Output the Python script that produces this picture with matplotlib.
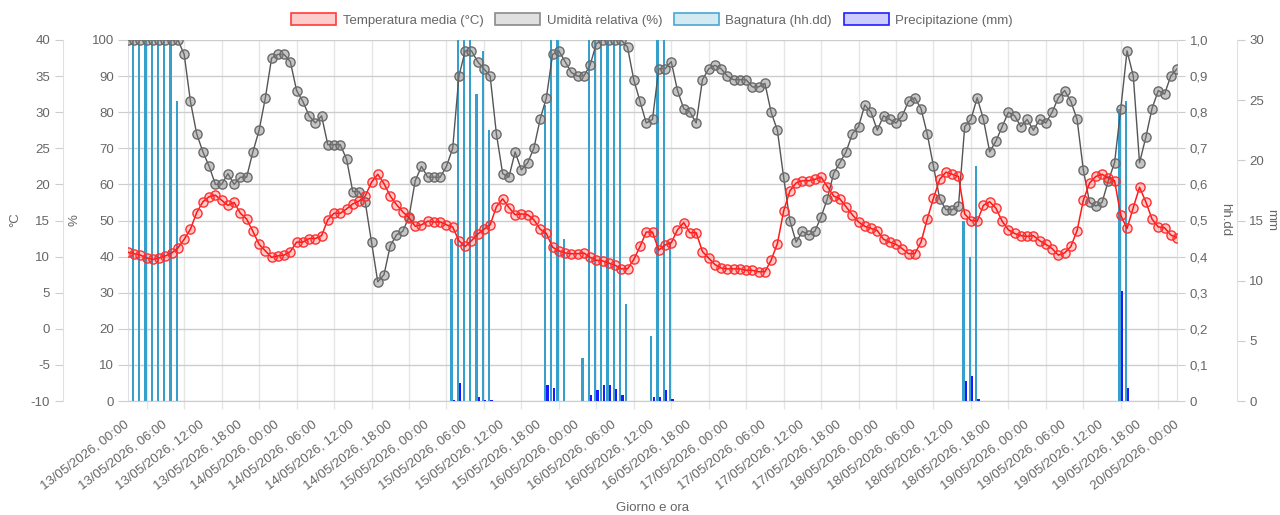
import numpy as np
import pandas as pd
import matplotlib
matplotlib.use('Agg')
import matplotlib.pyplot as plt
from matplotlib.patches import Patch

plt.rcParams['font.family'] = ['Liberation Sans', 'DejaVu Sans']

# hourly data 13/05/2026 00:00 -> 20/05/2026 00:00
temperatura = [
    10.6, 10.4, 10.2, 9.8, 9.6, 9.8, 10.1, 10.5, 11.2,
    12.4, 13.8, 16.1, 17.6, 18.3, 18.5, 17.8, 17.1, 17.5, 16.0, 15.2, 13.5,
    11.7, 10.8, 9.9, 10.1, 10.2, 10.7, 12.0, 12.0, 12.5, 12.5, 12.9,
    15.1, 16.0, 16.0, 16.6, 17.3, 17.7, 18.4, 20.3, 21.4, 20.1, 18.4, 17.2, 16.2, 15.4, 14.2,
    14.4, 14.9, 14.8, 14.8, 14.4, 14.1, 12.2, 11.4, 12.2, 13.1, 13.8, 14.4,
    16.9, 18.0, 16.8, 15.8, 15.9, 15.8, 15.1, 13.8, 13.2, 11.3, 10.8, 10.5,
    10.4, 10.4, 10.5, 9.9, 9.5, 9.4, 9.1, 8.8, 8.3, 8.3, 9.6, 11.4,
    13.4, 13.4, 10.9, 11.6, 11.9, 13.7, 14.7, 13.3, 13.3, 10.7, 9.8, 8.9,
    8.4, 8.3, 8.3, 8.3, 8.1, 8.1, 7.9, 7.9, 9.5, 11.8, 16.3, 19.1,
    20.2, 20.5, 20.5, 20.7, 21.0, 19.7, 18.4, 18.0,
    16.9, 15.8, 14.8, 14.2, 13.9, 13.6, 12.4, 12.0, 11.7, 11.1, 10.4, 10.4,
    12.0, 15.2, 18.1, 20.7, 21.7, 21.4, 21.1, 15.9, 15.0, 14.9, 17.1, 17.6,
    16.7, 14.9, 13.7, 13.2, 12.9, 12.8, 12.9, 12.2, 11.7, 11.1, 10.2, 10.5,
    11.4, 13.6, 17.8, 20.2, 21.1, 21.4, 20.9, 20.5, 15.7, 13.9, 16.8, 19.6,
    17.6, 15.2, 14.1, 14.0, 13.0, 12.6,
]
umidita = [
    100, 100, 100, 100, 100, 100, 100, 100, 100,
    96, 83, 74, 69, 65, 60, 60, 63, 60, 62, 62, 69,
    75, 84, 95, 96, 96, 94, 86, 83, 79, 77, 79,
    71, 71, 71, 67, 58, 58, 55, 44, 33, 35, 43, 46, 47, 51, 61,
    65, 62, 62, 62, 65, 70, 90, 97, 97, 94, 92, 90,
    74, 63, 62, 69, 64, 66, 70, 78, 84, 96, 97, 94,
    91, 90, 90, 93, 99, 100, 100, 100, 100, 98, 89, 83,
    77, 78, 92, 92, 94, 86, 81, 80, 77, 89, 92, 93,
    92, 90, 89, 89, 89, 87, 87, 88, 80, 75, 62, 50,
    44, 47, 46, 47, 51, 56, 63, 66,
    69, 74, 76, 82, 80, 75, 79, 78, 77, 79, 83, 84,
    81, 74, 65, 56, 53, 53, 54, 76, 78, 84, 78, 69,
    72, 76, 80, 79, 76, 78, 75, 78, 77, 80, 84, 86,
    83, 78, 64, 55, 54, 55, 61, 66, 81, 97, 90, 66,
    73, 81, 86, 85, 90, 92,
]

# wetness (hh.dd) and rain (mm): hour index -> value
bagnatura_ore = [0, 1, 2, 3, 4, 5, 6, 7, 8,
                 52, 53, 54, 55, 56, 57, 58,
                 67, 68, 69, 70,
                 73, 74, 75, 76, 77, 78, 79, 80,
                 84, 85, 86, 87,
                 134, 135, 136, 159, 160]
bagnatura_val = [1.0, 1.0, 1.0, 1.0, 1.0, 1.0, 1.0, 1.0, 0.83,
                 0.45, 1.0, 1.0, 1.0, 0.85, 0.97, 0.75,
                 0.82, 1.0, 1.0, 0.45,
                 0.12, 1.0, 1.0, 1.0, 1.0, 1.0, 1.0, 0.27,
                 0.18, 1.0, 1.0, 0.44,
                 0.50, 0.40, 0.65, 0.81, 0.83]
pioggia_ore = [52, 53, 56, 57, 58, 67, 68, 74, 75, 76, 77, 78, 79,
               84, 85, 86, 87, 134, 135, 136, 159, 160]
pioggia_val = [0.1, 1.5, 0.3, 0.1, 0.1, 1.3, 1.1, 0.5, 0.9, 1.3, 1.3, 1.0, 0.5,
               0.3, 0.3, 0.9, 0.15, 1.7, 2.1, 0.15, 9.1, 1.1]

times = pd.date_range('2026-05-13 00:00', periods=len(temperatura), freq='h')
etichette = times.strftime('%d/%m/%Y, %H:%M')
ore = np.arange(len(temperatura))

TXT = '#666666'
GRID_V = '#e6e6e6'
GRID_H = '#cdcdcd'
C_BAGN = '#36a0cc'
C_PIOG = '#1a1aff'
FS = 9.5

fig = plt.figure(figsize=(12.8, 5.15), dpi=100)
rect = [128 / 1280, 1 - 401 / 515, (1177 - 128) / 1280, (401 - 40) / 515]
axW = fig.add_axes(rect)
axP = axW.twinx()
axH = axW.twinx()
axT = axW.twinx()

# wetness bars (main axes, right scale)
axW.bar(np.array(bagnatura_ore) - 0.2, bagnatura_val, width=0.36, color=C_BAGN, zorder=2)
axW.set_xlim(0, 168)
axW.set_ylim(0, 1)
axW.set_xticks(ore[::6])
axW.set_xticklabels(etichette[::6])
axW.set_xticks(np.arange(3, 168, 6), minor=True)
axW.tick_params(axis='x', which='major', length=0, pad=16, labelsize=FS, labelcolor=TXT)
axW.tick_params(axis='x', which='minor', length=6, color=GRID_V, width=1)
for lbl in axW.get_xticklabels():
    lbl.set_rotation(37)
    lbl.set_ha('right')
    lbl.set_va('center')
    lbl.set_rotation_mode('anchor')
axW.grid(True, which='minor', axis='x', color=GRID_V, lw=1)
axW.grid(True, which='major', axis='y', color=GRID_H, lw=1)
axW.set_axisbelow(True)
axW.yaxis.tick_right()
axW.set_yticks(np.arange(0, 1.01, 0.1))
axW.set_yticklabels(['0'] + [f'0,{k}' for k in range(1, 10)] + ['1,0'])
axW.tick_params(axis='y', length=6, color=GRID_H, pad=3, labelsize=FS, labelcolor=TXT)
axW.spines['top'].set_visible(False)
axW.spines['left'].set_color('#e0e0e0')
axW.spines['right'].set_color('#e0e0e0')
axW.spines['bottom'].set_color(GRID_H)

# rain bars
axP.bar(np.array(pioggia_ore) + 0.2, pioggia_val, width=0.36, color=C_PIOG, zorder=2)
axP.set_ylim(0, 30)
axP.set_yticks(np.arange(0, 31, 5))
axP.spines['right'].set_position(('outward', 43))
for s in ['top', 'bottom', 'left']:
    axP.spines[s].set_visible(False)
axP.spines['right'].set_color('#e0e0e0')
axP.tick_params(axis='y', length=6, color=GRID_H, pad=3, labelsize=FS, labelcolor=TXT)

# humidity
axH.plot(ore, umidita, color='#555555', lw=1, marker='o', ms=6.6,
         mfc=(0.5, 0.5, 0.5, 0.45), mec='#6a6a6a', mew=1.0)
axH.set_ylim(0, 100)
axH.yaxis.tick_left()
axH.set_yticks(np.arange(0, 101, 10))
axH.tick_params(axis='y', length=7, color=GRID_H, pad=3, labelsize=FS, labelcolor=TXT)
for s in ['top', 'bottom', 'left', 'right']:
    axH.spines[s].set_visible(False)

# temperature
axT.plot(ore, temperatura, color='#ff1a1a', lw=1.1, marker='o', ms=6.6,
         mfc=(1, 0, 0, 0.2), mec='#ff3030', mew=1.0)
axT.set_ylim(-10, 40)
axT.yaxis.tick_left()
axT.set_yticks(np.arange(-10, 41, 5))
axT.set_yticklabels([str(v) for v in range(-10, 41, 5)])
axT.spines['left'].set_position(('outward', 47))
axT.spines['left'].set_color('#e0e0e0')
for s in ['top', 'bottom', 'right']:
    axT.spines[s].set_visible(False)
axT.tick_params(axis='y', length=6, color=GRID_H, pad=3, labelsize=FS, labelcolor=TXT)

# keep wetness ticks on the right after twinning
axW.yaxis.tick_right()

# axis titles
fig.text(15 / 1280, 1 - 220 / 515, '°C', rotation=90, ha='center', va='center', fontsize=FS, color=TXT)
fig.text(75 / 1280, 1 - 220 / 515, '%', rotation=90, ha='center', va='center', fontsize=FS, color=TXT)
fig.text(1225 / 1280, 1 - 220 / 515, 'hh.dd', rotation=270, ha='center', va='center', fontsize=FS, color=TXT)
fig.text(1271 / 1280, 1 - 220 / 515, 'mm', rotation=270, ha='center', va='center', fontsize=FS, color=TXT)
fig.text(652 / 1280, 1 - 508 / 515, 'Giorno e ora', ha='center', va='center', fontsize=FS, color=TXT)

handles = [
    Patch(facecolor='#ffcccc', edgecolor='#ff3b3b', lw=1.2),
    Patch(facecolor='#e0e0e0', edgecolor='#8a8a8a', lw=1.2),
    Patch(facecolor='#d4eaf3', edgecolor='#4aa8d0', lw=1.2),
    Patch(facecolor='#ccccff', edgecolor='#2020ff', lw=1.2),
]
nomi = ['Temperatura media (°C)', 'Umidità relativa (%)', 'Bagnatura (hh.dd)', 'Precipitazione (mm)']
fig.legend(handles, nomi, loc='center', bbox_to_anchor=(652 / 1280, 1 - 20 / 515), ncol=4,
           frameon=False, fontsize=FS, labelcolor=TXT, handlelength=3.4, handleheight=1.0,
           handletextpad=0.5, columnspacing=0.9)

fig.savefig('out.png', dpi=100)
